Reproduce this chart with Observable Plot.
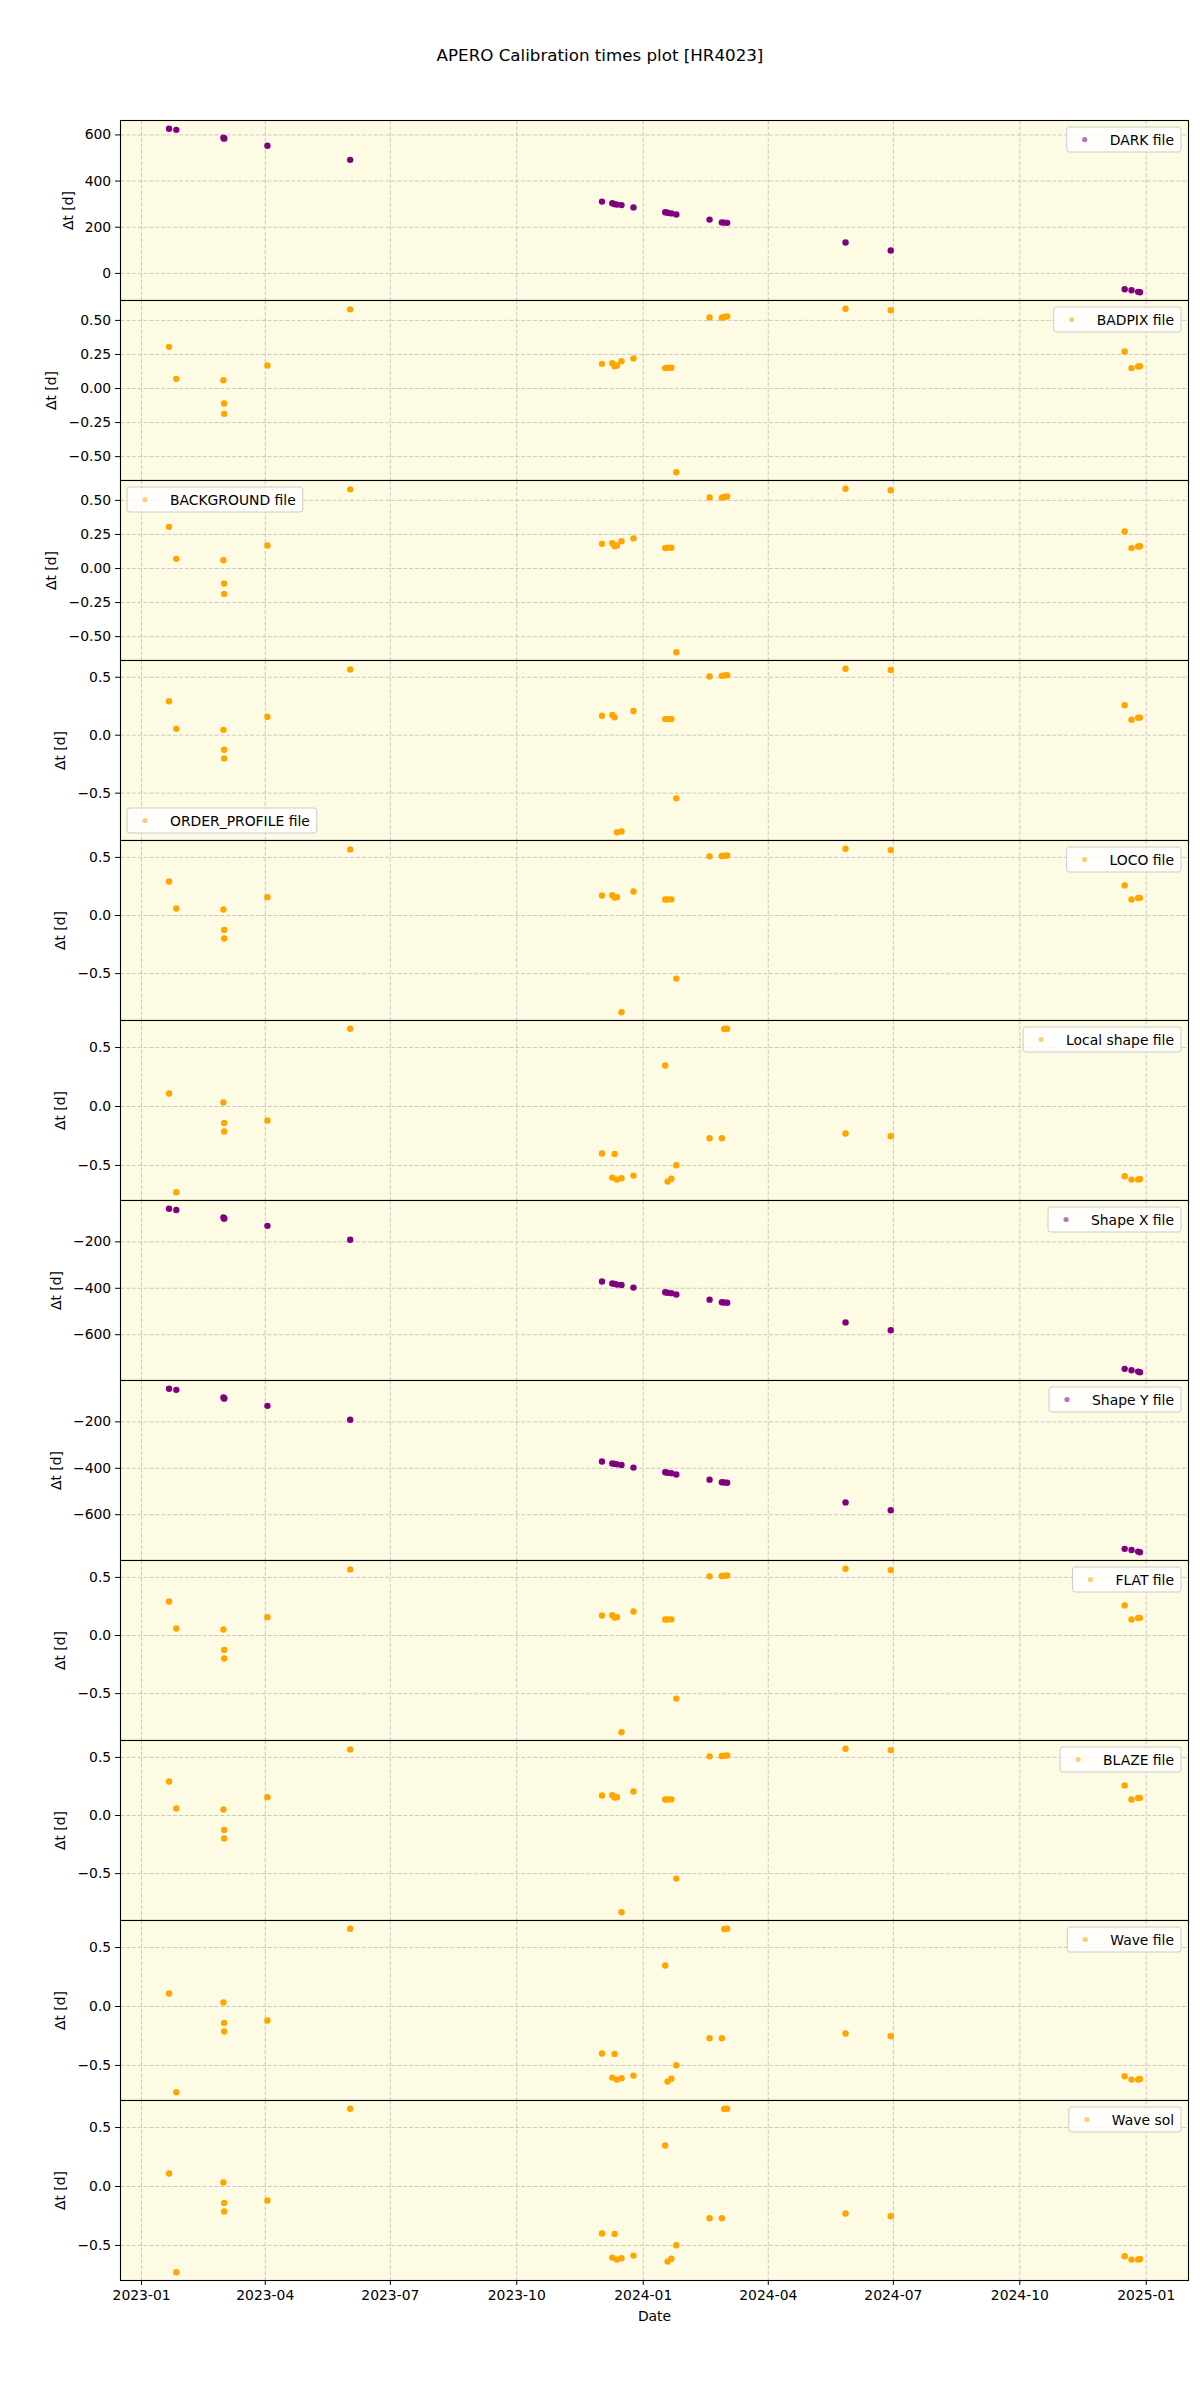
<!DOCTYPE html>
<html>
<head>
<meta charset="utf-8">
<script src="https://cdn.jsdelivr.net/npm/d3@7"></script>
<script src="https://cdn.jsdelivr.net/npm/@observablehq/plot@0.6"></script>
<style>
body { margin: 0; background: #ffffff; }
#fig { position: relative; width: 1200px; height: 2400px; font-family: "DejaVu Sans", sans-serif; background: #ffffff; }
#title { position: absolute; left: 0; width: 1200px; top: 45px; text-align: center; font-size: 16.7px; line-height: 20px; color: #000; }
.panel { position: absolute; left: 0; width: 1200px; }
</style>
</head>
<body>
<div id="fig"><div id="title">APERO Calibration times plot [HR4023]</div></div>
<script>
// Observation times (UTC)
const obsDates = [
  "2023-01-21T00:00Z", "2023-01-26T07:00Z", "2023-03-01T14:00Z", "2023-03-02T02:00Z", "2023-03-02T03:00Z",
  "2023-04-02T14:00Z", "2023-06-01T19:00Z", "2023-12-02T00:00Z", "2023-12-09T12:00Z", "2023-12-11T05:00Z",
  "2023-12-12T22:00Z", "2023-12-16T05:00Z", "2023-12-24T22:00Z", "2024-01-17T00:00Z", "2024-01-18T17:00Z",
  "2024-01-21T12:00Z", "2024-01-25T02:00Z", "2024-02-18T07:00Z", "2024-02-27T05:00Z", "2024-02-28T22:00Z",
  "2024-03-02T02:00Z", "2024-05-27T05:00Z", "2024-06-29T02:00Z", "2024-12-16T07:00Z", "2024-12-21T07:00Z",
  "2024-12-26T02:00Z", "2024-12-27T10:00Z"
];

// Δt [d] per calibration file type
const darkDt = [627, 622, 588, 585, 585, 553, 492, 311, 304, 300, 298, 296, 286, 265, 263, 260, 255, 233, 221, 220, 219, 134, 99, -69, -73, -80, -82];
const badpixDt = [0.306, 0.071, 0.061, -0.110, -0.186, 0.169, 0.581, 0.181, 0.186, 0.164, 0.169, 0.201, 0.221, 0.150, 0.152, 0.152, -0.615, 0.522, 0.520, 0.525, 0.529, 0.586, 0.574, 0.272, 0.150, 0.162, 0.164];
const backgroundDt = [0.306, 0.071, 0.061, -0.110, -0.186, 0.169, 0.581, 0.181, 0.186, 0.164, 0.169, 0.201, 0.221, 0.150, 0.152, 0.152, -0.615, 0.522, 0.520, 0.525, 0.529, 0.586, 0.574, 0.272, 0.150, 0.162, 0.164];
const orderProfileDt = [0.293, 0.055, 0.046, -0.125, -0.200, 0.159, 0.568, 0.168, 0.174, 0.154, -0.838, -0.830, 0.209, 0.139, 0.139, 0.140, -0.545, 0.507, 0.512, 0.516, 0.518, 0.574, 0.562, 0.258, 0.133, 0.151, 0.152];
const locoDt = [0.293, 0.060, 0.052, -0.124, -0.198, 0.158, 0.569, 0.172, 0.175, 0.155, 0.158, -0.833, 0.207, 0.138, 0.138, 0.139, -0.543, 0.509, 0.512, 0.514, 0.516, 0.575, 0.563, 0.259, 0.138, 0.150, 0.152];
const localShapeDt = [0.110, -0.728, 0.034, -0.139, -0.212, -0.119, 0.660, -0.399, -0.603, -0.402, -0.620, -0.609, -0.586, 0.348, -0.637, -0.612, -0.499, -0.269, -0.269, 0.657, 0.660, -0.229, -0.252, -0.592, -0.620, -0.620, -0.615];
const shapeXDt = [-57, -63, -95, -99, -99, -131, -191, -371, -379, -381, -384, -386, -397, -417, -419, -421, -427, -449, -460, -461, -462, -547, -581, -747, -753, -759, -762];
const shapeYDt = [-57, -62, -95, -98, -99, -131, -191, -371, -379, -381, -383, -386, -397, -417, -419, -421, -427, -449, -460, -461, -462, -547, -581, -747, -752, -759, -762];
const flatDt = [0.293, 0.060, 0.052, -0.124, -0.198, 0.158, 0.569, 0.172, 0.175, 0.155, 0.158, -0.833, 0.207, 0.138, 0.138, 0.139, -0.543, 0.509, 0.512, 0.514, 0.516, 0.575, 0.563, 0.259, 0.138, 0.150, 0.152];
const blazeDt = [0.293, 0.060, 0.052, -0.124, -0.198, 0.158, 0.569, 0.172, 0.175, 0.155, 0.158, -0.833, 0.207, 0.138, 0.138, 0.139, -0.543, 0.509, 0.512, 0.514, 0.516, 0.575, 0.563, 0.259, 0.138, 0.150, 0.152];
const waveFileDt = [0.110, -0.728, 0.034, -0.139, -0.212, -0.119, 0.660, -0.399, -0.603, -0.402, -0.620, -0.609, -0.586, 0.348, -0.637, -0.612, -0.499, -0.269, -0.269, 0.657, 0.660, -0.229, -0.252, -0.592, -0.620, -0.620, -0.615];
const waveSolDt = [0.110, -0.728, 0.034, -0.139, -0.212, -0.119, 0.660, -0.399, -0.603, -0.402, -0.620, -0.609, -0.586, 0.348, -0.637, -0.612, -0.499, -0.269, -0.269, 0.657, 0.660, -0.229, -0.252, -0.592, -0.620, -0.620, -0.615];

// Panel labels and tick values
const panelNames = ["DARK file", "BADPIX file", "BACKGROUND file", "ORDER_PROFILE file", "LOCO file", "Local shape file",
                    "Shape X file", "Shape Y file", "FLAT file", "BLAZE file", "Wave file", "Wave sol"];
const panelValues = [darkDt, badpixDt, backgroundDt, orderProfileDt, locoDt, localShapeDt, shapeXDt, shapeYDt, flatDt, blazeDt, waveFileDt, waveSolDt];
const darkTicks = [0, 200, 400, 600];
const quarterTicks = [-0.5, -0.25, 0, 0.25, 0.5];
const halfTicks = [-0.5, 0, 0.5];
const shapeTicks = [-600, -400, -200];
const xTickLabels = ["2023-01", "2023-04", "2023-07", "2023-10", "2024-01", "2024-04", "2024-07", "2024-10", "2025-01"];

// Styling per panel (not data)
const PURPLE = "#800080", ORANGE = "#ffa500";
const panelStyle = [
  {color: PURPLE, ticks: darkTicks, fmt: "d", legend: "ur", labelOffset: 57},
  {color: ORANGE, ticks: quarterTicks, fmt: ".2f", legend: "ur", labelOffset: 74},
  {color: ORANGE, ticks: quarterTicks, fmt: ".2f", legend: "ul", labelOffset: 74},
  {color: ORANGE, ticks: halfTicks, fmt: ".1f", legend: "ll", labelOffset: 65},
  {color: ORANGE, ticks: halfTicks, fmt: ".1f", legend: "ur", labelOffset: 65},
  {color: ORANGE, ticks: halfTicks, fmt: ".1f", legend: "ur", labelOffset: 65},
  {color: PURPLE, ticks: shapeTicks, fmt: "d", legend: "ur", labelOffset: 69},
  {color: PURPLE, ticks: shapeTicks, fmt: "d", legend: "ur", labelOffset: 69},
  {color: ORANGE, ticks: halfTicks, fmt: ".1f", legend: "ur", labelOffset: 65},
  {color: ORANGE, ticks: halfTicks, fmt: ".1f", legend: "ur", labelOffset: 65},
  {color: ORANGE, ticks: halfTicks, fmt: ".1f", legend: "ur", labelOffset: 65},
  {color: ORANGE, ticks: halfTicks, fmt: ".1f", legend: "ur", labelOffset: 65}
];

const dates = obsDates.map(s => new Date(s));
const xTicks = xTickLabels.map(s => new Date(s + "-01T00:00Z"));
const [t0, t1] = d3.extent(dates);
const tspan = t1 - t0;
const xDomain = [new Date(+t0 - 0.05 * tspan), new Date(+t1 + 0.05 * tspan)];

const FONT = "DejaVu Sans, sans-serif";
const FS = 13.9;
const BG = "#fdfbe3";
const GRID = {stroke: "#b0b0b0", strokeOpacity: 0.65, strokeDasharray: "4.1,1.8", strokeWidth: 1};
const ML = 120, MR = 12, PH = 180, TOP = 120, W = 1200;

const fig = document.getElementById("fig");

panelNames.forEach((name, i) => {
  const st = panelStyle[i];
  const vals = panelValues[i];
  const last = i === panelNames.length - 1;
  const mt = 4, mb = last ? 64 : 4;
  const data = dates.map((d, j) => ({date: d, dt: vals[j]}));
  const [y0, y1] = d3.extent(vals);
  const ys = y1 - y0;
  const yDomain = [y0 - 0.05 * ys, y1 + 0.05 * ys];

  const marks = [
    Plot.frame({fill: BG, stroke: null}),
    Plot.gridX(xTicks, GRID),
    Plot.gridY(st.ticks, GRID),
    Plot.dot(data, {x: "date", y: "dt", r: 3.2, fill: st.color, stroke: null}),
    Plot.frame({stroke: "#000", strokeWidth: 1.1}),
    Plot.axisY(st.ticks, {
      tickFormat: d3.format(st.fmt), tickSize: 4.9, tickPadding: 4.4,
      label: "Δt [d]", labelAnchor: "center", labelOffset: st.labelOffset, labelArrow: "none"
    })
  ];
  if (last) {
    marks.push(Plot.axisX(xTicks, {
      tickFormat: d3.utcFormat("%Y-%m"), tickSize: 4.9, tickPadding: 4.4,
      label: "Date", labelAnchor: "center", labelOffset: 40, labelArrow: "none"
    }));
  }

  const svg = Plot.plot({
    width: W, height: PH + mt + mb,
    marginLeft: ML, marginRight: MR, marginTop: mt, marginBottom: mb,
    style: {background: "none", fontFamily: FONT, fontSize: FS + "px", overflow: "visible", color: "#000"},
    x: {type: "utc", domain: xDomain, axis: last ? undefined : null},
    y: {type: "linear", domain: yDomain},
    marks
  });

  const wrap = document.createElement("div");
  wrap.className = "panel";
  wrap.style.top = (TOP + PH * i - mt) + "px";
  wrap.appendChild(svg);
  fig.appendChild(wrap);

  // legend box
  const g = d3.select(svg).append("g")
    .attr("font-family", FONT).attr("font-size", FS).attr("text-anchor", "start");
  const rect = g.append("rect");
  const circ = g.append("circle");
  const txt = g.append("text").attr("fill", "#000").attr("text-anchor", "start").text(name);
  const tw = txt.node().getComputedTextLength();
  const bw = 43 + tw + 7, bh = 25;
  const fl = ML, fr = W - MR, ft = mt, fb = mt + PH;
  let bx, by;
  if (st.legend === "ur") { bx = fr - 7 - bw; by = ft + 7; }
  else if (st.legend === "ul") { bx = fl + 7; by = ft + 7; }
  else { bx = fl + 7; by = fb - 7 - bh; }
  rect.attr("x", bx).attr("y", by).attr("width", bw).attr("height", bh).attr("rx", 3)
      .attr("fill", "#ffffff").attr("fill-opacity", 0.8).attr("stroke", "#cccccc").attr("stroke-width", 1);
  circ.attr("cx", bx + 18).attr("cy", by + bh / 2).attr("r", 2.6).attr("fill", st.color).attr("fill-opacity", 0.55);
  txt.attr("x", bx + 43).attr("y", by + bh / 2 + 5);
});
</script>
</body>
</html>
